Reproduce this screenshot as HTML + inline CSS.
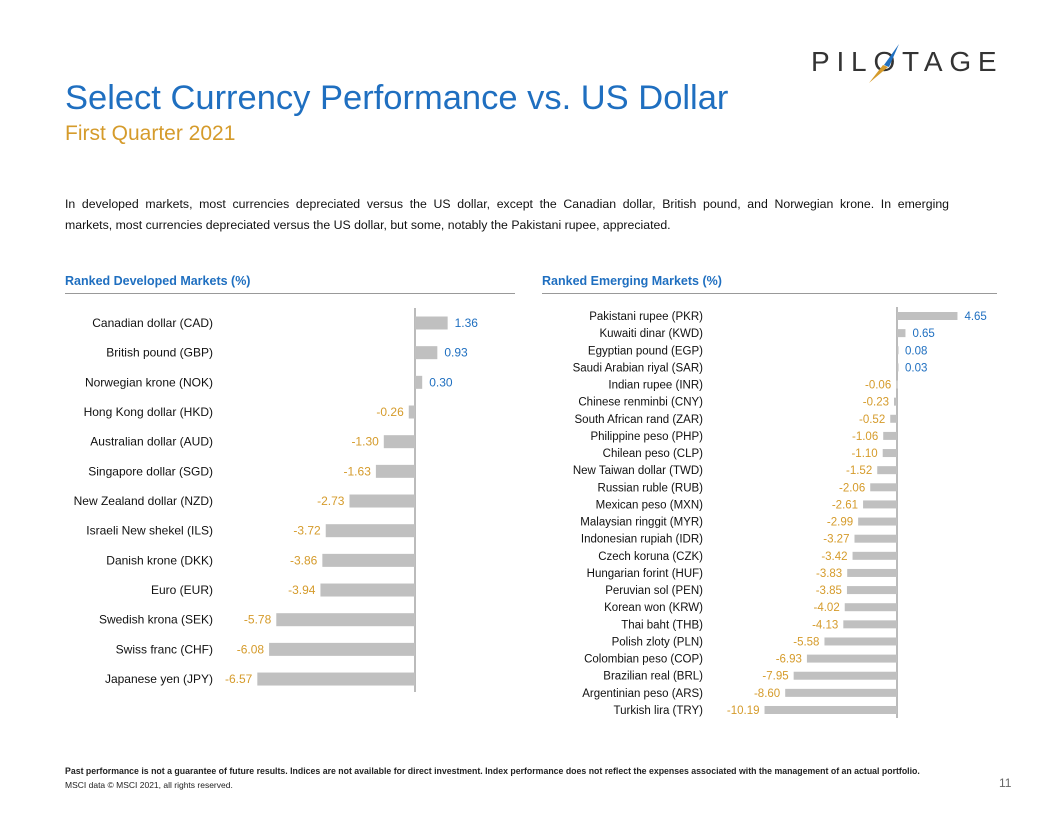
<!DOCTYPE html>
<html><head><meta charset="utf-8"><style>
body{margin:0;width:1056px;height:816px;background:#fff;font-family:"Liberation Sans",sans-serif;position:relative;overflow:hidden}
.abs{position:absolute}
</style></head><body>
<div class="abs" style="left:811px;top:46px;font-size:28px;letter-spacing:6.8px;color:#333;white-space:nowrap">PIL<span style="color:#333">O</span>TAGE</div>
<svg class="abs" style="left:865px;top:43px" width="40" height="42"><polygon points="34,1 19,22 24,24" fill="#1f6fc0"/><polygon points="4,40 18,22 23,24" fill="#d59b2b"/></svg>
<div class="abs" style="left:65px;top:79px;font-size:34.5px;color:#1f6fc0;white-space:nowrap">Select Currency Performance vs. US Dollar</div>
<div class="abs" style="left:65px;top:122px;font-size:21px;color:#d59b2b;">First Quarter 2021</div>
<div class="abs" style="left:65px;top:194px;width:884px;font-size:12.3px;line-height:21px;color:#111;">
<div style="text-align:justify;text-align-last:justify">In developed markets, most currencies depreciated versus the US dollar, except the Canadian dollar, British pound, and Norwegian krone. In emerging</div>
<div>markets, most currencies depreciated versus the US dollar, but some, notably the Pakistani rupee, appreciated.</div></div>
<div class="abs" style="left:65px;top:274px;font-size:12.5px;font-weight:bold;color:#1f6fc0;">Ranked Developed Markets (%)</div>
<div class="abs" style="left:65px;top:293px;width:450px;border-top:1px solid #999"></div>
<div class="abs" style="left:542px;top:274px;font-size:12.5px;font-weight:bold;color:#1f6fc0;">Ranked Emerging Markets (%)</div>
<div class="abs" style="left:542px;top:293px;width:455px;border-top:1px solid #999"></div>
<svg class="abs" style="left:0;top:0" width="1056" height="816" id="chart"></svg>
<div class="abs" style="left:65px;top:766px;font-size:8.75px;font-weight:bold;color:#222;white-space:nowrap">Past performance is not a guarantee of future results. Indices are not available for direct investment. Index performance does not reflect the expenses associated with the management of an actual portfolio.</div>
<div class="abs" style="left:65px;top:780px;font-size:8.5px;color:#222;">MSCI data © MSCI 2021, all rights reserved.</div>
<div class="abs" style="left:999px;top:776px;font-size:12px;color:#666;">11</div>
<script>
const devCats=["Canadian dollar (CAD)","British pound (GBP)","Norwegian krone (NOK)","Hong Kong dollar (HKD)","Australian dollar (AUD)","Singapore dollar (SGD)","New Zealand dollar (NZD)","Israeli New shekel (ILS)","Danish krone (DKK)","Euro (EUR)","Swedish krona (SEK)","Swiss franc (CHF)","Japanese yen (JPY)"];
const devVals=[1.36,0.93,0.30,-0.26,-1.30,-1.63,-2.73,-3.72,-3.86,-3.94,-5.78,-6.08,-6.57];
const emCats=["Pakistani rupee (PKR)","Kuwaiti dinar (KWD)","Egyptian pound (EGP)","Saudi Arabian riyal (SAR)","Indian rupee (INR)","Chinese renminbi (CNY)","South African rand (ZAR)","Philippine peso (PHP)","Chilean peso (CLP)","New Taiwan dollar (TWD)","Russian ruble (RUB)","Mexican peso (MXN)","Malaysian ringgit (MYR)","Indonesian rupiah (IDR)","Czech koruna (CZK)","Hungarian forint (HUF)","Peruvian sol (PEN)","Korean won (KRW)","Thai baht (THB)","Polish zloty (PLN)","Colombian peso (COP)","Brazilian real (BRL)","Argentinian peso (ARS)","Turkish lira (TRY)"];
const emVals=[4.65,0.65,0.08,0.03,-0.06,-0.23,-0.52,-1.06,-1.10,-1.52,-2.06,-2.61,-2.99,-3.27,-3.42,-3.83,-3.85,-4.02,-4.13,-5.58,-6.93,-7.95,-8.60,-10.19];
const svg=document.getElementById('chart'),NS="http://www.w3.org/2000/svg";
function mk(t,a){const e=document.createElementNS(NS,t);for(const k in a)e.setAttribute(k,a[k]);svg.appendChild(e);return e;}
function draw(cats,vals,o){
  const x=v=>o.x0+v*o.scale, y=i=>o.y0+i*o.step;
  const ax=mk('line',{x1:o.x0,x2:o.x0,y1:o.ay1,y2:o.ay2,stroke:'#777','stroke-width':1});
  
  
  cats.forEach((c,i)=>{
    const v=vals[i],cy=y(i);
    const lab=mk('text',{x:o.lx,y:cy+4,'text-anchor':'end','font-size':o.fs,fill:'#111','font-family':'Liberation Sans, sans-serif'});
    lab.textContent=c;
    
    
    const b=mk('rect',{x:Math.min(x(0),x(v)),y:cy-o.bh/2,width:Math.max(Math.abs(x(v)-x(0)),1.5),height:o.bh,fill:'#c0c0c0'});
    
    
    const pos=v>=0;
    const t=mk('text',{x:pos?Math.max(x(v),x(0)+1)+7:x(v)-5,y:cy+4,'text-anchor':pos?'start':'end','font-size':o.fs,fill:pos?'#1f6fc0':'#d59b2b','font-family':'Liberation Sans, sans-serif'});
    t.textContent=v.toFixed(2);
    
    
  });
}
draw(devCats,devVals,{id:'developed',x0:415,scale:24,y0:323,step:29.67,bh:13,ay1:308,ay2:692,lx:213,fs:12});
draw(emCats,emVals,{id:'emerging',x0:897,scale:13,y0:316,step:17.13,bh:8,ay1:307,ay2:718,lx:703,fs:11.5});
</script>
</body></html>
